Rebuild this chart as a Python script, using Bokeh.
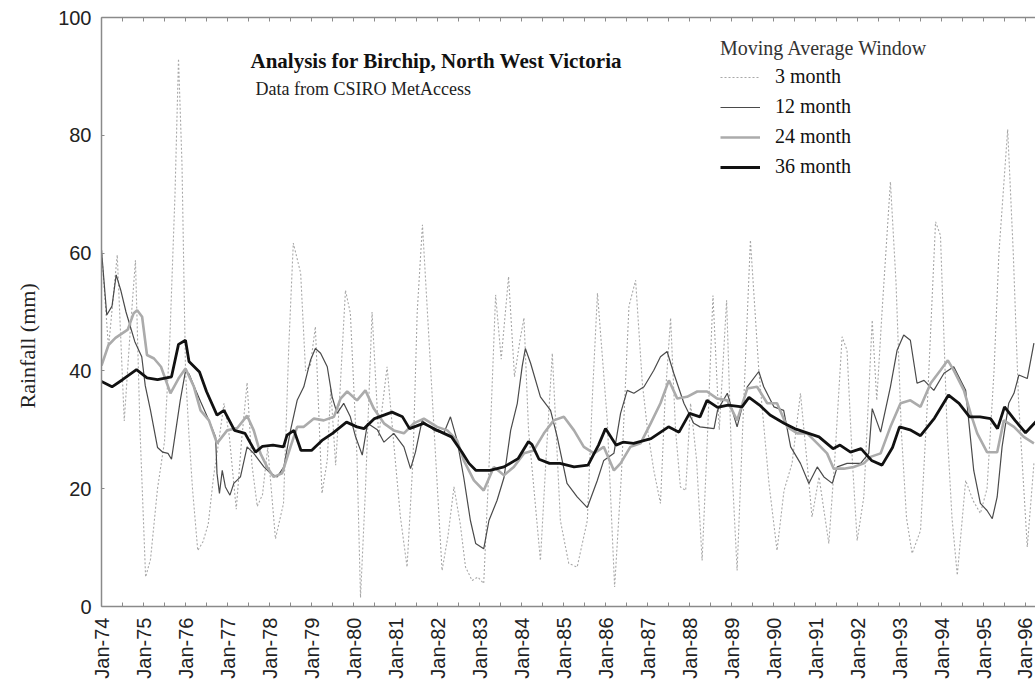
from math import pi
from bokeh.plotting import figure
from bokeh.models import Range1d, LinearAxis, FixedTicker, Legend, LegendItem, Label, Title
from bokeh.embed import file_html
from bokeh.resources import INLINE

# ---------------- data (x = months since Jan-74) ----------------
tick_labels = ["Jan-74", "Jan-75", "Jan-76", "Jan-77", "Jan-78", "Jan-79", "Jan-80",
               "Jan-81", "Jan-82", "Jan-83", "Jan-84", "Jan-85", "Jan-86", "Jan-87",
               "Jan-88", "Jan-89", "Jan-90", "Jan-91", "Jan-92", "Jan-93", "Jan-94",
               "Jan-95", "Jan-96"]
y_ticks = [0, 20, 40, 60, 80, 100]
series_names = ["3 month", "12 month", "24 month", "36 month"]

m3_month = [0, 2, 4.5, 6.5, 8, 9.7, 11, 12.6, 14, 16,
            18, 19.5, 21, 22, 23, 24, 25, 26, 27.5, 29,
            30.5, 32, 33.5, 35, 36.5, 38.5, 40, 41.6, 43, 44.5,
            46, 47.5, 49.7, 52, 53.5, 54.8, 56.9, 58.3, 59.7, 61.1,
            63, 64.5, 65.5, 66.9, 68, 69.7, 71.1, 73, 74, 75.4,
            77.3, 79.2, 81.6, 83.5, 85.4, 87.3, 89, 90.2, 91.7, 93.5,
            95.5, 97.3, 99, 100.7, 102.5, 104, 105.9, 107.5, 109.2, 110.8,
            112.6, 114.2, 116.3, 118, 119.5, 120.7, 122, 123.5, 125.4, 127,
            128.8, 131.1, 133.5, 135.9, 138.8, 140.2, 141.7, 144.5, 146.6, 148.5,
            150.7, 152.6, 154.5, 156, 157.8, 159.7, 161, 162.6, 164, 165.4,
            166.9, 168.3, 170, 171.6, 173, 174.7, 176.5, 178.6, 180, 181.6,
            183.5, 185.4, 187.8, 190.7, 193, 195, 197.3, 199.7, 201.5, 203,
            205, 207.8, 209.5, 211.6, 213, 214.5, 215.9, 217.8, 220.2, 221.5,
            223, 225.4, 227, 228.5, 230, 231.6, 234, 236, 238.3, 239.7,
            241.6, 243, 244.5, 246.9, 249, 251.1, 253, 255, 256.4, 258.9,
            260.5, 262, 264.5, 266.4]
m3_rain = [60.5, 44, 59.7, 31.5, 45, 58.8, 30, 5.0, 8, 20,
           28, 45, 70, 93, 75, 40, 29, 20, 9.5, 11,
           14, 22, 28, 34.5, 29, 16.5, 28, 38, 24, 17,
           19, 27, 11.5, 17.5, 44, 61.7, 56.6, 40, 41, 47.5,
           19.2, 24.8, 37, 24, 35, 53.7, 49.8, 25.4, 1.5, 19.7,
           50, 28.8, 40.7, 27.7, 15.2, 6.7, 25, 50, 64.8, 46,
           25, 6.1, 12, 20.3, 14, 6.7, 4.4, 5, 3.9, 25,
           52.9, 42, 56, 39, 45, 49, 30, 20.3, 7.8, 25,
           43, 14.6, 7.3, 6.7, 14.6, 35, 53.2, 31.6, 3.3, 22,
           51, 55.4, 38, 30, 23.1, 17.5, 35, 49, 30, 20.3,
           19.7, 34.5, 25, 7.8, 27.1, 52.8, 30, 52, 25, 6.1,
           35, 62.2, 40.1, 20.9, 9.5, 19.7, 24.3, 36.2, 25, 15.2,
           22, 10.7, 25, 45.8, 43.5, 25, 11.2, 18.6, 48.6, 35,
           50, 72.1, 55, 30, 15, 9, 12.9, 35, 65.3, 63,
           30, 15, 5.3, 21.4, 18, 15.8, 20, 40, 60, 81,
           60, 35, 10.1, 24.3]

m12_month = [0, 1.5, 3, 4.2, 5.5, 7, 9.5, 11.5, 12.5, 14,
             16, 17.5, 19, 20, 21, 22.5, 24, 25, 26.5, 28.3,
             30.7, 32.6, 33, 33.7, 34.5, 35.4, 36.7, 37.8, 39.7, 41.6,
             43.5, 46.4, 48.3, 50.2, 52.1, 54, 55.9, 57.8, 59.7, 61.1,
             62.6, 64.5, 65.9, 67.3, 69.2, 71.1, 72.5, 74.5, 76, 78.8,
             80.7, 83.5, 86.4, 88.3, 89.7, 91.6, 95, 97.8, 99.7, 101.6,
             103.5, 105.4, 106.9, 109.2, 110.7, 113, 115, 116.9, 118.8, 120.2,
             121.1, 122.6, 125.4, 128.3, 130.2, 133, 135.9, 138.8, 141.6, 143.5,
             146.4, 148.3, 150.2, 152.1, 155, 157.8, 159.7, 161.6, 163.5, 166.4,
             169.2, 171, 175, 176, 178.8, 181.6, 184.5, 187.8, 189.2, 192.1,
             194.9, 196.9, 199.7, 202.1, 204.5, 206.4, 208.8, 210.2, 213, 216.9,
             219.2, 220.2, 222.6, 225.4, 227.3, 229.2, 231.1, 233, 235, 237.8,
             240.7, 243.5, 246.9, 249.2, 251.1, 253, 254.5, 255.9, 257.3, 259.2,
             260.7, 262.1, 264.5, 266.4]
m12_rain = [60.5, 49.5, 51, 56.3, 53.7, 50, 45, 42.4, 37.5, 33.3,
            27, 26.2, 26, 25, 29, 35, 40, 39.5, 37.3, 34.8,
            31.6, 28.8, 22.6, 19.2, 23.1, 20.3, 18.9, 20.9, 22, 27.1,
            26, 23.7, 22.6, 22, 23.7, 29.9, 35, 37.3, 41.8, 43.8,
            43, 40.7, 35.6, 32.8, 34.5, 32.2, 29, 25.7, 31.1, 30,
            27.9, 29.4, 27.1, 23.4, 26.2, 31.6, 29.9, 29.4, 32.2, 28.2,
            21.9, 14.6, 10.7, 9.8, 14.6, 18, 21.9, 29.9, 34.5, 40.8,
            43.8, 41.3, 35.6, 33.3, 28.8, 20.9, 18.6, 16.8, 21.3, 24.8,
            26, 32.8, 36.7, 36.2, 37.3, 40.1, 42.4, 43.3, 39.6, 34.5,
            31.1, 30.5, 30.2, 33.3, 36.2, 30.5, 37.3, 39.9, 37.3, 33.9,
            33.3, 27.1, 24.3, 20.9, 23.7, 22, 20.9, 23.7, 24.3, 24.3,
            26, 33.6, 29.6, 37.3, 43.5, 46.1, 45.2, 37.9, 38.4, 36.7,
            39.6, 40.7, 36.7, 23.1, 17.5, 16.3, 14.9, 18.6, 27.1, 34.5,
            36.2, 39.3, 38.7, 44.7]

m24_month = [0, 2, 4, 7.5, 9.2, 10.2, 11.6, 13, 15, 17,
             19.7, 22, 24, 26.4, 28.3, 30.7, 33, 35.9, 38.8, 41.6,
             43.5, 45.4, 47.3, 49.2, 51.6, 54, 55.9, 57.8, 60.7, 63.5,
             66.4, 68.3, 70.2, 73, 75.4, 77.8, 80.7, 83.5, 86.4, 89.2,
             92.1, 95.9, 98.8, 101.6, 103.5, 106.4, 109.2, 112.1, 115, 117.8,
             120.7, 123.5, 126.4, 129.2, 132.1, 135, 137.8, 140.7, 143.5, 146.4,
             148.3, 151.1, 154, 156.9, 159.7, 162.1, 164.5, 167.3, 170.2, 173,
             175.9, 178.8, 181.6, 184.5, 187.3, 190.2, 193, 195.9, 198.8, 201.6,
             204.5, 207.3, 209.2, 212.1, 214.9, 217.8, 219.7, 222.6, 225.4, 228.3,
             231.1, 234, 236.9, 239.7, 241.8, 243.5, 246.4, 248.3, 250.2, 253,
             255.9, 257.8, 260.7, 263.5, 266.4]
m24_rain = [40.9, 44.4, 45.6, 47, 49.8, 50.3, 49.2, 42.7, 42.1, 40.7,
            36.2, 38.7, 40.4, 37.3, 33.3, 31.6, 27.7, 29.9, 30.3, 32.4,
            29.9, 26, 23.7, 22, 22.6, 27.1, 30.5, 30.5, 31.9, 31.6,
            32.2, 35.3, 36.5, 35, 36.7, 33.6, 31.1, 29.9, 29.4, 31.1,
            31.9, 30.5, 29.9, 28.2, 24.8, 21.4, 19.7, 23.7, 22.3, 23.7,
            26, 26.5, 29.4, 31.6, 32.2, 29.9, 27.1, 26, 27.1, 23.1,
            24.3, 27.1, 27.7, 31.1, 34.5, 38.4, 35.3, 35.6, 36.5, 36.5,
            35.3, 35, 31.6, 37, 37.3, 34.5, 34.5, 30.5, 29.4, 29.4,
            27.7, 26, 23.4, 23.4, 23.7, 24.3, 25.4, 26, 30.5, 34.5,
            35, 33.9, 37.9, 40.1, 41.8, 40.1, 36.7, 32.8, 29.4, 26.2,
            26.2, 31.6, 30.5, 28.8, 27.7]

m36_month = [0, 3, 6, 10, 13, 16, 20, 22, 24, 25,
             28, 30, 33, 35, 38, 41, 44, 46, 49, 52,
             53, 55, 57, 60, 63, 66, 70, 73, 75, 78,
             83, 86, 88, 92, 96, 100, 103, 105, 107, 111,
             115, 119, 122, 123, 125, 128, 131, 135, 139, 142,
             144, 147, 149, 152, 157, 162, 165, 168, 171, 173,
             176, 179, 183, 185, 188, 191, 195, 198, 202, 205,
             209, 211, 214, 217, 220, 223, 226, 228, 231, 234,
             238, 242, 245, 248, 251, 254, 256, 258, 261, 264,
             267]
m36_rain = [38.2, 37.3, 38.5, 40.2, 38.8, 38.5, 39.0, 44.5, 45.2, 41.6,
            39.8, 36.5, 32.5, 33.3, 29.9, 29.4, 26.2, 27.2, 27.4, 27.1,
            29.1, 29.9, 26.5, 26.5, 28.2, 29.4, 31.3, 30.5, 30.2, 31.9,
            33.0, 32.2, 30.2, 31.1, 29.9, 28.8, 26.2, 24.3, 23.1, 23.1,
            23.7, 25.1, 28.0, 27.5, 25.0, 24.3, 24.3, 23.7, 24.0, 27.4,
            30.2, 27.4, 27.9, 27.7, 28.5, 30.5, 29.6, 32.8, 32.2, 35.0,
            33.8, 34.2, 33.9, 35.5, 34.2, 32.5, 31.1, 30.2, 29.4, 28.8,
            26.8, 27.4, 26.2, 26.8, 24.8, 24.0, 27.0, 30.5, 30.0, 29.0,
            32.0, 35.9, 34.5, 32.2, 32.2, 31.9, 30.2, 33.9, 31.6, 29.5,
            31.4]

# ---------------- figure ----------------
p = figure(width=1035, height=684,
           x_range=Range1d(0, 266.85), y_range=Range1d(0, 100),
           x_axis_type=None, y_axis_type=None,
           output_backend="svg", toolbar_location=None,
           min_border_left=101, min_border_right=0,
           min_border_top=17, min_border_bottom=78)
p.outline_line_color = None
p.background_fill_color = "white"
p.border_fill_color = "white"

AX = "#8a8a8a"
x_major = [12 * i for i in range(len(tick_labels))]
x_minor = [12 * i + 6 for i in range(len(tick_labels))]

bottom = LinearAxis(ticker=FixedTicker(ticks=x_major, minor_ticks=x_minor),
                    major_label_overrides={m: t for m, t in zip(x_major, tick_labels)})
bottom.major_label_orientation = pi / 2
bottom.major_label_text_font = "Liberation Sans"
bottom.major_label_text_font_size = "20px"
bottom.major_label_text_color = "#222222"
bottom.major_label_standoff = 11
bottom.axis_line_color = AX
bottom.axis_line_width = 1.5
bottom.major_tick_line_color = AX
bottom.minor_tick_line_color = AX
bottom.major_tick_in = 4
bottom.major_tick_out = 0
bottom.minor_tick_in = 4
bottom.minor_tick_out = 0
p.add_layout(bottom, "below")

top = LinearAxis(ticker=FixedTicker(ticks=x_major, minor_ticks=x_minor),
                 major_label_overrides={m: "" for m in x_major})
top.major_label_standoff = 0
top.axis_line_color = AX
top.axis_line_width = 1.5
top.major_tick_line_color = AX
top.minor_tick_line_color = AX
top.major_tick_in = 4
top.major_tick_out = 0
top.minor_tick_in = 4
top.minor_tick_out = 0
p.add_layout(top, "above")

left = LinearAxis(ticker=FixedTicker(ticks=y_ticks))
left.major_label_text_font = "Liberation Sans"
left.major_label_text_font_size = "20px"
left.major_label_text_color = "#222222"
left.major_label_standoff = 10
left.axis_line_color = AX
left.axis_line_width = 1.5
left.major_tick_line_color = AX
left.major_tick_in = 3
left.major_tick_out = 0
left.minor_tick_line_color = None
p.add_layout(left, "left")

p.add_layout(Title(text="Rainfall (mm)", align="left", vertical_align="top",
                   offset=198, standoff=27,
                   text_font="Liberation Serif", text_font_size="22px",
                   text_font_style="normal", text_color="#222222"), "left")

# ---------------- series ----------------
r3 = p.line(m3_month, m3_rain, line_color="#a8a8a8", line_width=1.1, line_dash="2 2")
r12 = p.line(m12_month, m12_rain, line_color="#4a4a4a", line_width=1.2)
r24 = p.line(m24_month, m24_rain, line_color="#ababab", line_width=2.6)
r36 = p.line(m36_month, m36_rain, line_color="#111111", line_width=2.8)

legend = Legend(items=[LegendItem(label=n, renderers=[r])
                       for n, r in zip(series_names, [r3, r12, r24, r36])],
                title="Moving Average Window", location=(619, 428))
legend.border_line_color = None
legend.background_fill_alpha = 0
legend.padding = 0
legend.margin = 0
legend.glyph_width = 40
legend.glyph_height = 20
legend.label_height = 20
legend.label_standoff = 15
legend.spacing = 7
legend.label_text_font = "Liberation Serif"
legend.label_text_font_size = "20px"
legend.label_text_color = "#111111"
legend.title_text_font = "Liberation Serif"
legend.title_text_font_style = "normal"
legend.title_text_font_size = "20px"
legend.title_text_color = "#333333"
legend.title_standoff = 5
p.add_layout(legend)

p.add_layout(Label(x=149, y=546, x_units="screen", y_units="screen",
                   text="Analysis for Birchip, North West Victoria",
                   text_font="Liberation Serif", text_font_style="bold",
                   text_font_size="21px", text_baseline="middle", text_color="#111111"))
p.add_layout(Label(x=154, y=518, x_units="screen", y_units="screen",
                   text="Data from CSIRO MetAccess",
                   text_font="Liberation Serif", text_font_size="18px",
                   text_baseline="middle", text_color="#222222"))

open("out.html", "w").write(file_html(p, INLINE))
